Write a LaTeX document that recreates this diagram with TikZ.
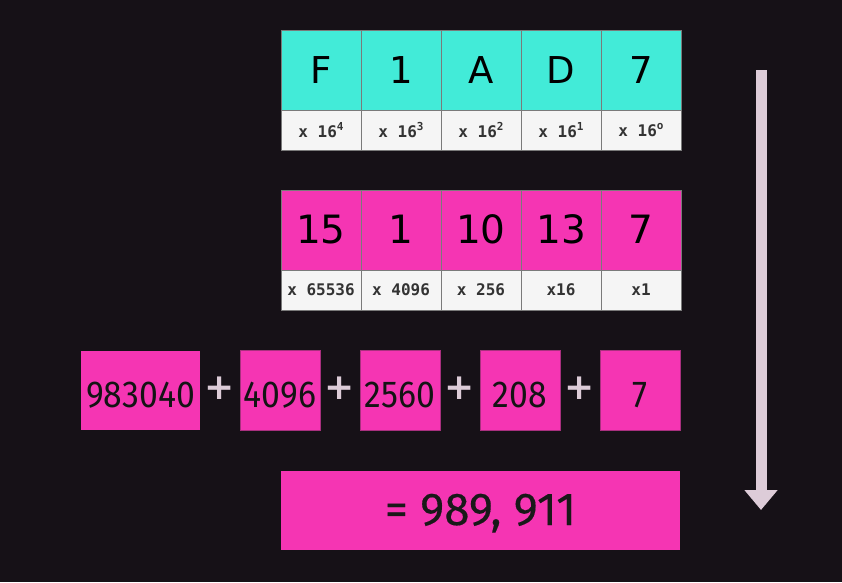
\documentclass[tikz,border=0pt]{standalone}
\usepackage{fontspec}
\setmainfont{DejaVu Sans}
\newfontfamily\monob{DejaVu Sans Mono}
\newfontfamily\narrowf[FakeStretch=0.9]{Fira Sans}
\newfontfamily\firaf[FakeBold=0.3]{Fira Sans}
\usetikzlibrary{arrows.meta}
\definecolor{bg}{HTML}{161117}
\definecolor{cyanc}{HTML}{42EBD8}
\definecolor{pinkc}{HTML}{F535B3}
\definecolor{pinkb}{HTML}{A8307E}
\definecolor{lightc}{HTML}{F5F5F5}
\definecolor{gridc}{HTML}{7A7A7A}
\definecolor{plusc}{HTML}{DDCCD8}
\definecolor{labc}{HTML}{333333}
\newcommand{\pw}[1]{\raisebox{0.45em}{\fontsize{11}{12}\selectfont #1}}
\tikzset{
  bigcell/.style={minimum width=80pt, minimum height=80pt, inner sep=0pt, outer sep=0pt, draw=gridc, line width=1pt, text=black, text height=26pt, text depth=0pt},
  hexcell/.style={bigcell, fill=cyanc, font=\fontsize{37}{40}\selectfont},
  deccell/.style={bigcell, fill=pinkc, font=\fontsize{39}{42}\selectfont},
  labcell/.style={minimum width=80pt, minimum height=40pt, inner sep=0pt, outer sep=0pt, draw=gridc, line width=1pt, fill=lightc, text=labc, font=\monob\bfseries\fontsize{16}{18}\selectfont},
  sumbox/.style={minimum width=80pt, minimum height=80pt, inner sep=0pt, outer sep=0pt, fill=pinkc, draw=pinkb, line width=1pt, text=black!92, font=\narrowf\fontsize{37.5}{40}\selectfont, text height=34pt, text depth=0pt},
  plussign/.style={text=plusc, inner sep=0pt, font=\bfseries\fontsize{36}{38}\selectfont},
  resbox/.style={minimum width=399pt, minimum height=79pt, inner sep=0pt, fill=pinkc, text=black!90, font=\firaf\fontsize{46}{48}\selectfont, text height=29pt, text depth=0pt},
  bigarrow/.style={draw=plusc, line width=11pt, -{Triangle[width=32pt,length=20pt]}}
}
\begin{document}
\begin{tikzpicture}[x=1pt,y=-1pt]
\fill[bg] (0,0) rectangle (842,582);
\useasboundingbox (0,0) rectangle (842,582);
% hex row
\node[hexcell] (h0) at (321,70) {F};
\node[hexcell] (h1) at (401,70) {1};
\node[hexcell] (h2) at (481,70) {A};
\node[hexcell] (h3) at (561,70) {D};
\node[hexcell] (h4) at (641,70) {7};
\node[labcell] (w0) at (321,130) {x 16\pw{4}};
\node[labcell] (w1) at (401,130) {x 16\pw{3}};
\node[labcell] (w2) at (481,130) {x 16\pw{2}};
\node[labcell] (w3) at (561,130) {x 16\pw{1}};
\node[labcell] (w4) at (641,130) {x 16\pw{o}};
% decimal row
\node[deccell] (d0) at (321,230) {15};
\node[deccell] (d1) at (401,230) {1};
\node[deccell] (d2) at (481,230) {10};
\node[deccell] (d3) at (561,230) {13};
\node[deccell] (d4) at (641,230) {7};
\node[labcell] (m0) at (321,290) {x 65536};
\node[labcell] (m1) at (401,290) {x 4096};
\node[labcell] (m2) at (481,290) {x 256};
\node[labcell] (m3) at (561,290) {x16};
\node[labcell] (m4) at (641,290) {x1};
% sum row
\node[sumbox, minimum width=119pt, minimum height=79pt, draw=none] (s0) at (140.5,390.5) {983040};
\node[plussign] (p1) at (220,388) {+};
\node[sumbox] (s1) at (280,390) {4096};
\node[plussign] (p2) at (340,388) {+};
\node[sumbox] (s2) at (400,390) {2560};
\node[plussign] (p3) at (460,388) {+};
\node[sumbox] (s3) at (520,390) {208};
\node[plussign] (p4) at (580,388) {+};
\node[sumbox] (s4) at (640,390) {7};
% result
\node[resbox] (res) at (480.5,510.5) {= 989, 911};
% arrow
\coordinate (atop) at (761,70);
\coordinate (abot) at (761,510);
\draw[bigarrow] (atop) -- (abot);
\end{tikzpicture}
\end{document}
